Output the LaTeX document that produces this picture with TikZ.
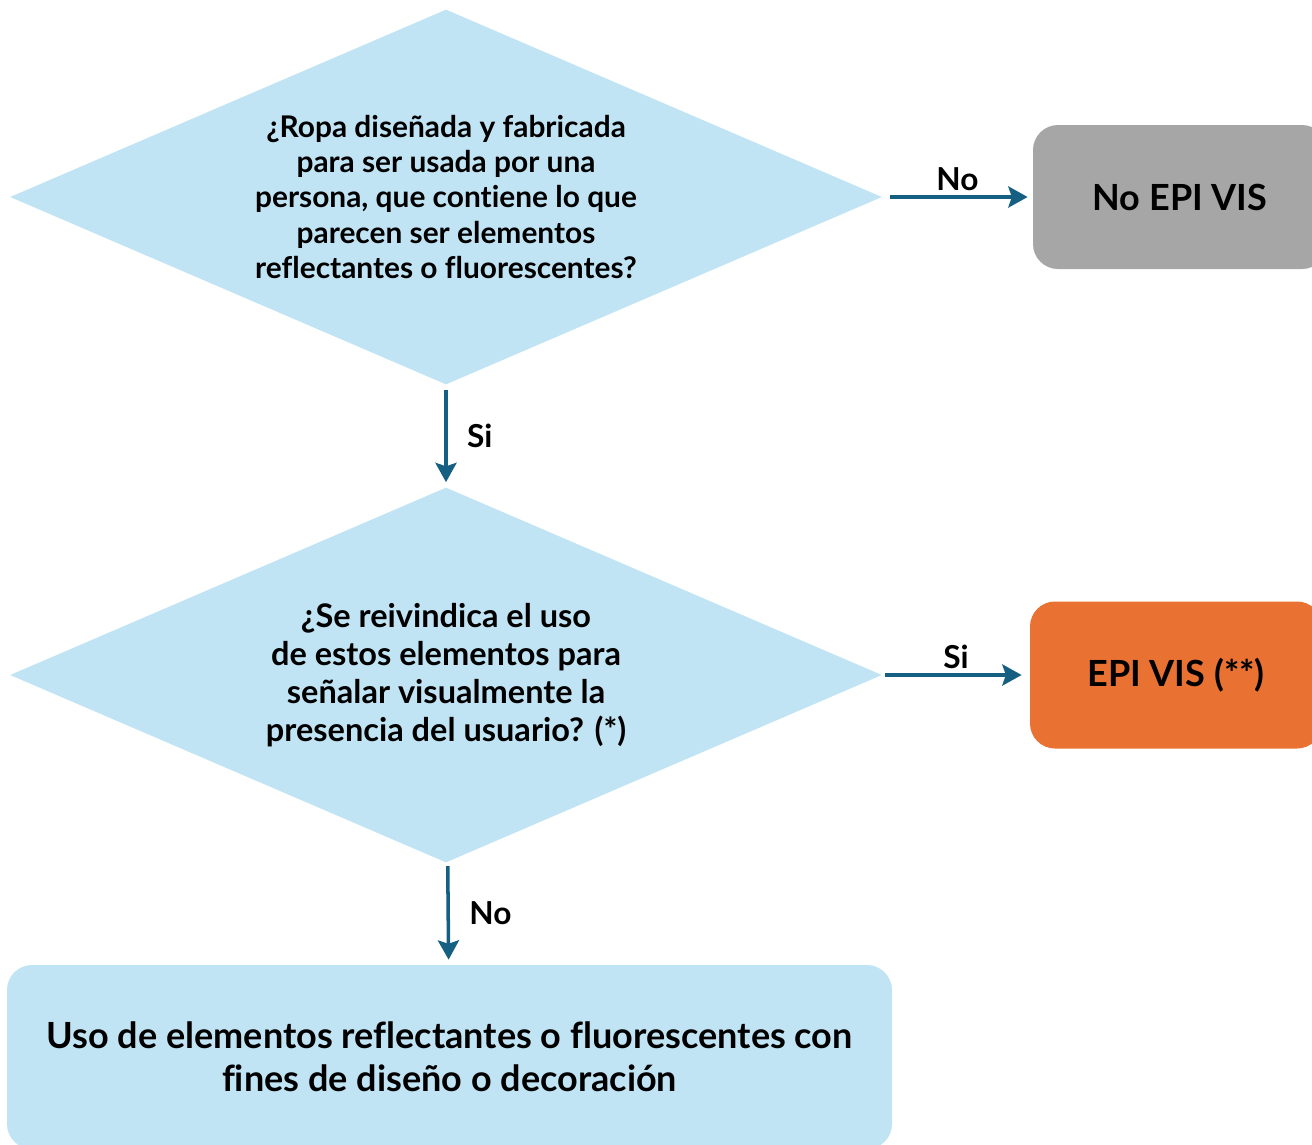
\documentclass[tikz,border=0pt]{standalone}
\usepackage{fontspec}
\setmainfont[Ligatures=NoCommon]{Lato}
\usepackage{tikz}
\usetikzlibrary{arrows.meta, shapes.geometric, positioning}
\tikzset{
    decisionnode/.style = {draw=none, diamond, aspect=2.3, fill=skyblue, inner sep = 0em,
      node distance=0em, minimum width=17.44cm, minimum height=7.5cm},
    roundnode/.style = {draw=none, rectangle, rounded corners=0.5cm, inner sep = 0.2em,
      node distance=0em, font=\bfseries\fontsize{20.5}{24.5}\selectfont},
    textnode/.style  = {draw=none, fill=none, rectangle, inner sep = 0.25em, text=black,
      font=\bfseries\fontsize{18}{20}\selectfont},
    connect/.style = {arrowblue, line width=2pt, -{Stealth[length=11pt, width=12pt, inset=2pt]}},
    every text node part/.style={align=center}
}
\definecolor{skyblue}{HTML}{C1E4F5}
\definecolor{greybox}{HTML}{A6A6A6}
\definecolor{orangebox}{HTML}{E97132}
\definecolor{arrowblue}{HTML}{156082}

\begin{document}
\begin{tikzpicture}
\useasboundingbox (0,0) rectangle (26.24,-22.88);
\clip (0,0) rectangle (26.24,-22.88);

\node[decisionnode, name=ropa, font=\bfseries\fontsize{17}{20}\selectfont] at (8.92,-3.94) {
  ¿Ropa diseñada y fabricada\\para ser usada por una\\persona, que contiene lo que\\
  parecen ser elementos\\reflectantes o fluorescentes?};
\node[roundnode, name=noepi, right of = ropa, xshift=14.68cm, minimum width=5.88cm,
  minimum height=2.88cm, fill=greybox] {No EPI VIS};
\draw (ropa) edge[connect, shorten <=0.16cm, shorten >=0.1cm] node[textnode, midway, above] {No} (noepi);

\node[decisionnode, name=uso, below of = ropa, yshift=-9.56cm, font=\bfseries\fontsize{18.5}{21.6}\selectfont] {
  ¿Se reivindica el uso\\de estos elementos para\\señalar visualmente la\\presencia del usuario? (*)};
\draw (ropa) edge[connect, shorten <=0.1cm, shorten >=0.1cm] node[textnode, midway, right, xshift=0.3cm] {Si} (uso);

\node[roundnode, name=epi, right of = uso, xshift=14.6cm, minimum width=5.84cm,
  minimum height=2.94cm, fill=orangebox] {EPI VIS (**)};
\draw (uso) edge[connect, shorten <=0.06cm, shorten >=0.16cm] node[textnode, midway, above] {Si} (epi);

\node[roundnode, name=deco, below of = uso, yshift=-7.64cm, xshift=0.07cm, minimum width=17.7cm,
  minimum height=3.68cm, fill=skyblue] {Uso de elementos reflectantes o fluorescentes con\\
  fines de diseño o decoración};
\draw (uso) edge[connect, shorten <=0.08cm, shorten >=0.1cm] node[textnode, midway, right, xshift=0.3cm] {No} (deco);
\end{tikzpicture}
\end{document}
